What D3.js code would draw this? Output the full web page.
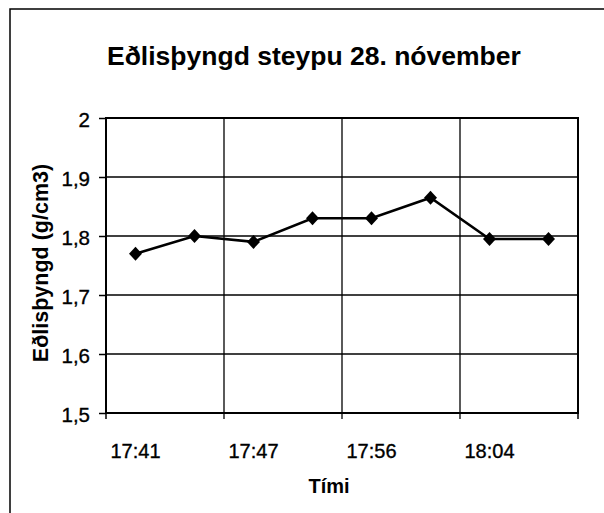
<!DOCTYPE html>
<html>
<head>
<meta charset="utf-8">
<script src="https://cdn.jsdelivr.net/npm/d3@7"></script>
<style>
  body { margin: 0; background: #fff; }
  svg { display: block; font-family: "Liberation Sans", Arial, sans-serif; }
</style>
</head>
<body>
<script>
// times of the measurements (only every other one is labelled on the axis)
var times = ["17:41", "17:44", "17:47", "17:51", "17:56", "18:00", "18:04", "18:08"];
var density = [1.77, 1.80, 1.79, 1.83, 1.83, 1.865, 1.795, 1.795];
var yTicks = [1.5, 1.6, 1.7, 1.8, 1.9, 2];

var W = 604, H = 513;
// plot area edges ("top" is a reserved window property, so different names)
var plotL = 106, plotR = 578, plotT = 118, plotB = 413;

var svg = d3.select("body").append("svg")
    .attr("width", W)
    .attr("height", H);

// outer chart frame (only top and left edges show in the picture)
svg.append("path")
    .attr("d", "M10,520 L10,9 L604,9")
    .attr("fill", "none")
    .attr("stroke", "#000")
    .attr("stroke-width", 1.5);

var x = d3.scaleBand()
    .domain(times)
    .range([plotL, plotR])
    .padding(0);

var y = d3.scaleLinear()
    .domain([1.5, 2])
    .range([plotB, plotT]);

var labelled = times.filter(function(d, i) { return i % 2 === 0; });

// horizontal grid lines
svg.append("g")
    .selectAll("line")
    .data(yTicks)
  .enter().append("line")
    .attr("x1", plotL)
    .attr("x2", plotR)
    .attr("y1", function(d) { return y(d); })
    .attr("y2", function(d) { return y(d); })
    .attr("stroke", "#000")
    .attr("stroke-width", 1.3);

// vertical grid lines between every second category
svg.append("g")
    .selectAll("line")
    .data(labelled.slice(1))
  .enter().append("line")
    .attr("x1", function(d) { return x(d); })
    .attr("x2", function(d) { return x(d); })
    .attr("y1", plotT)
    .attr("y2", plotB + 6)
    .attr("stroke", "#000")
    .attr("stroke-width", 1.3);

// plot area border
svg.append("rect")
    .attr("x", plotL)
    .attr("y", plotT)
    .attr("width", plotR - plotL)
    .attr("height", plotB - plotT)
    .attr("fill", "none")
    .attr("stroke", "#000")
    .attr("stroke-width", 2);

// tick marks under the x axis at the edges
svg.append("g")
    .selectAll("line")
    .data([plotL, plotR])
  .enter().append("line")
    .attr("x1", function(d) { return d; })
    .attr("x2", function(d) { return d; })
    .attr("y1", plotB)
    .attr("y2", plotB + 6)
    .attr("stroke", "#000")
    .attr("stroke-width", 1.5);

// y axis
var yAxis = svg.append("g")
    .attr("transform", "translate(" + plotL + ",0)")
    .call(d3.axisLeft(y)
      .tickValues(yTicks)
      .tickSize(7)
      .tickPadding(9)
      .tickFormat(function(d) { return String(d).replace(".", ","); }));
yAxis.select(".domain").remove();
yAxis.selectAll("line").attr("stroke", "#000").attr("stroke-width", 1.5);
yAxis.selectAll("text")
    .attr("font-size", 20.5)
    .attr("dy", "0.42em")
    .attr("font-family", "Liberation Sans, Arial, sans-serif")
    .attr("fill", "#000")
    .attr("stroke", "#000")
    .attr("stroke-width", 0.35);

// x axis labels
var xAxis = svg.append("g")
    .attr("transform", "translate(0," + plotB + ")")
    .call(d3.axisBottom(x)
      .tickValues(labelled)
      .tickSize(0)
      .tickPadding(31));
xAxis.select(".domain").remove();
xAxis.selectAll("text")
    .attr("font-size", 20)
    .attr("font-family", "Liberation Sans, Arial, sans-serif")
    .attr("fill", "#000")
    .attr("stroke", "#000")
    .attr("stroke-width", 0.35);

// data line
var line = d3.line()
    .x(function(d, i) { return x(times[i]) + x.bandwidth() / 2; })
    .y(function(d) { return y(d); });

svg.append("path")
    .datum(density)
    .attr("d", line)
    .attr("fill", "none")
    .attr("stroke", "#000")
    .attr("stroke-width", 2.6);

svg.append("g")
    .selectAll("path")
    .data(density)
  .enter().append("path")
    .attr("transform", function(d, i) {
      return "translate(" + (x(times[i]) + x.bandwidth() / 2) + "," + y(d) + ")";
    })
    .attr("d", "M0,-7 L6.5,0 L0,7 L-6.5,0 Z")
    .attr("fill", "#000");

// titles
svg.append("text")
    .attr("x", 107)
    .attr("y", 65)
    .attr("font-size", 26.5)
    .attr("font-weight", "bold")
    .text("Eðlisþyngd steypu 28. nóvember");

svg.append("text")
    .attr("x", 329)
    .attr("y", 493)
    .attr("text-anchor", "middle")
    .attr("font-size", 20)
    .attr("font-weight", "bold")
    .text("Tími");

svg.append("text")
    .attr("transform", "translate(48,263) rotate(-90)")
    .attr("text-anchor", "middle")
    .attr("font-size", 21.5)
    .attr("font-weight", "bold")
    .text("Eðlisþyngd (g/cm3)");
</script>
</body>
</html>
